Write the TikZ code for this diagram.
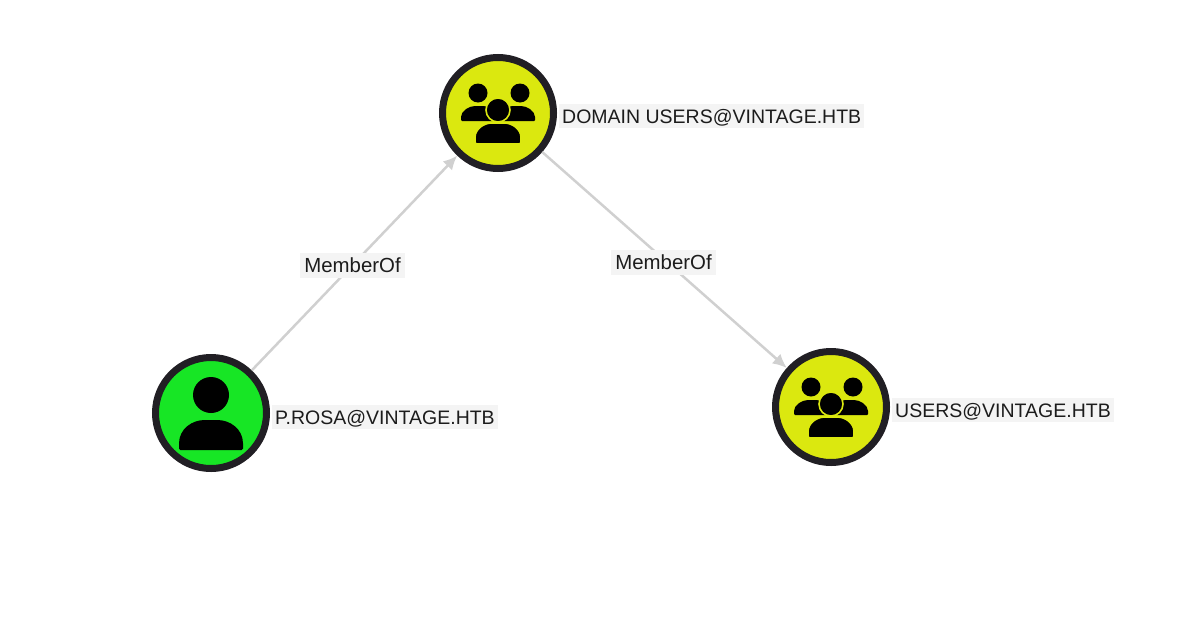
\documentclass[tikz,border=0pt]{standalone}
\usepackage{fontspec}
\setmainfont{Liberation Sans}
\usetikzlibrary{arrows.meta}
\definecolor{ringgrey}{HTML}{211F24}
\definecolor{groupcol}{HTML}{DBE80F}
\definecolor{usercol}{HTML}{17E625}
\definecolor{edgegrey}{HTML}{D0D0D0}
\definecolor{labelbg}{HTML}{F4F4F4}
\definecolor{labeltxt}{HTML}{1C1C1C}
\tikzset{
  entity/.style = {circle, draw=ringgrey, line width=7pt, minimum size=111pt,
    inner sep=0pt},
  group_n/.style = {entity, fill=groupcol},
  user_n/.style = {entity, fill=usercol},
  namelabel/.style = {fill=labelbg, text=labeltxt, font=\fontsize{19.5}{22}\selectfont,
    inner xsep=3pt, inner ysep=0pt, text height=19pt, text depth=5pt, anchor=west},
  memberof/.style = {fill=labelbg, text=labeltxt, font=\fontsize{20.4}{22}\selectfont,
    inner xsep=4pt, inner ysep=0pt, text height=20pt, text depth=5pt},
  memberedge/.style = {draw=edgegrey, line width=2.5pt,
    -{Latex[length=14pt,width=13pt]}},
  pics/personicon/.style = {code={
    \fill[black] (0,-18) circle (18);
    \fill[black, rounded corners=1.5pt] (-32,37) -- (-32,32) .. controls (-32,16) and (-19,7) .. (-5,7)
      -- (5,7) .. controls (19,7) and (32,16) .. (32,32) -- (32,37) -- cycle;
  }},
  pics/groupicon/.style = {code={
    \fill[black] (-20,-20) circle (9.5);
    \fill[black] (22,-20) circle (9.5);
    \fill[black, rounded corners=1pt] (-37,8) -- (-37,5) .. controls (-37,-2) and (-29,-7) .. (-22,-7)
      -- (-16,-7) .. controls (-8,-7) and (0,-3) .. (0,8) -- cycle;
    \fill[black, rounded corners=1pt] (37,8) -- (37,5) .. controls (37,-2) and (29,-7) .. (22,-7)
      -- (16,-7) .. controls (8,-7) and (0,-3) .. (0,8) -- cycle;
    \fill[black, draw=groupcol, line width=1.6pt] (0,-3) circle (12);
    \fill[black, draw=groupcol, line width=1.6pt, rounded corners=1.5pt] (-23,31) -- (-23,26)
      .. controls (-23,16) and (-14,10) .. (-5,10) -- (5,10)
      .. controls (14,10) and (23,16) .. (23,26) -- (23,31) -- cycle;
  }}
}
\begin{document}
\begin{tikzpicture}[x=1pt,y=-1pt]
\useasboundingbox (0,0) rectangle (1193,640);
\node [group_n] (domain) at (498,113) {};
\node [user_n] (prosa) at (211,413) {};
\node [group_n] (users) at (831,407) {};
\pic at (domain) {groupicon};
\pic at (prosa) {personicon};
\pic at (users) {groupicon};

\node [namelabel] (domainname) at (559,116) {DOMAIN USERS@VINTAGE.HTB};
\node [namelabel] (prosaname) at (272,417) {P.ROSA@VINTAGE.HTB};
\node [namelabel] (usersname) at (892,410) {USERS@VINTAGE.HTB};

\draw [memberedge] (prosa) -- node [memberof, xshift=-2pt, yshift=-2pt] (leftof) {MemberOf} (domain);
\draw [memberedge] (domain) -- node [memberof, xshift=-1pt, yshift=-2pt] (rightof) {MemberOf} (users);
\end{tikzpicture}
\end{document}
